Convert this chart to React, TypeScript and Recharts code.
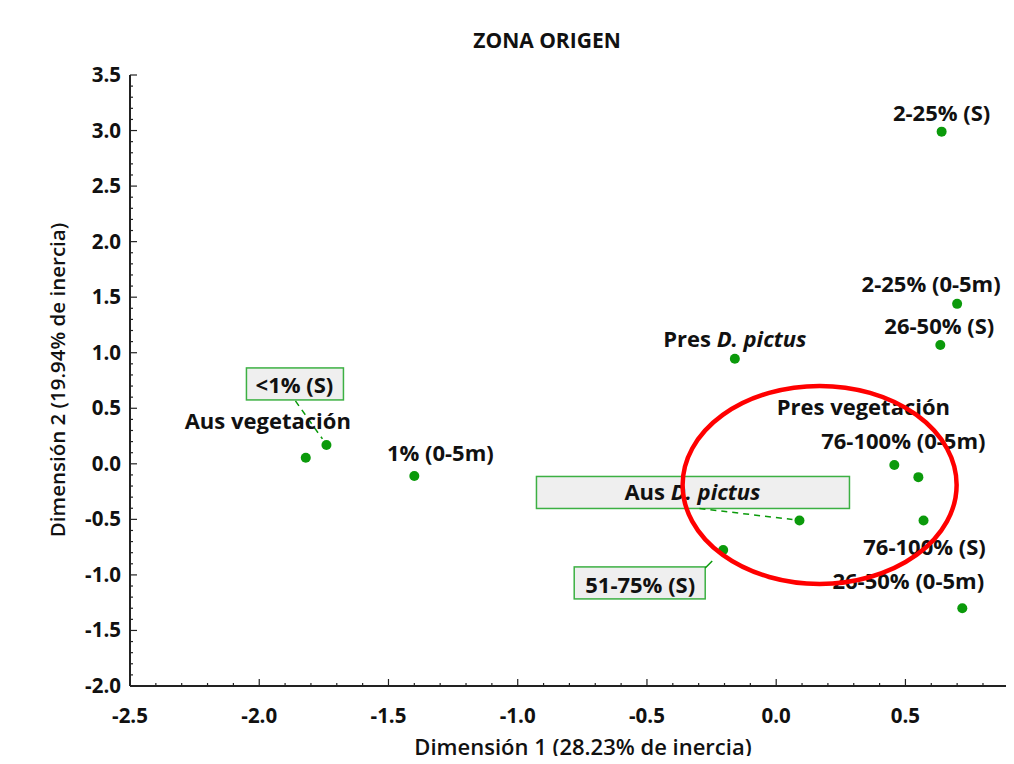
import { ScatterChart, Scatter, XAxis, YAxis, Label } from "recharts";

// Correspondence analysis coordinates
const pointNames = [
  "2-25% (S)",
  "2-25% (0-5m)",
  "26-50% (S)",
  "Pres D. pictus",
  "<1% (S)",
  "Aus vegetación",
  "1% (0-5m)",
  "76-100% (0-5m)",
  "Pres vegetación",
  "76-100% (S)",
  "Aus D. pictus",
  "51-75% (S)",
  "26-50% (0-5m)",
];
const dim1 = [0.64, 0.7, 0.635, -0.16, -1.74, -1.82, -1.4, 0.457, 0.55, 0.57, 0.09, -0.205, 0.72];
const dim2 = [2.99, 1.44, 1.07, 0.945, 0.17, 0.055, -0.11, -0.01, -0.12, -0.51, -0.51, -0.775, -1.3];

const xMajorTicks = [-2.5, -2.0, -1.5, -1.0, -0.5, 0.0, 0.5];
const yMajorTicks = [-2.0, -1.5, -1.0, -0.5, 0.0, 0.5, 1.0, 1.5, 2.0, 2.5, 3.0, 3.5];

// highlighted group (red ellipse centre)
const ellipseCenter = [{ x: 0.168, y: -0.19 }];

const points = pointNames.map((name, i) => ({ name, x: dim1[i], y: dim2[i] }));

// minor ticks every 0.1
const minor = (from: number, to: number) => {
  const out: number[] = [];
  for (let i = Math.round(from * 10); i <= Math.round(to * 10); i++) out.push(i / 10);
  return out;
};
const xTicks = minor(-2.5, 0.9);
const yTicks = minor(-2.0, 3.5);
const isMajor = (v: number, list: number[]) => list.some((m) => Math.abs(m - v) < 1e-6);

const FONT = "'Open Sans', Lato, sans-serif";
const GREEN = "#0b9a0b";
const BOX_STROKE = "#3cb043";

// label placement relative to the point (pixels)
const LABELS: Record<
  string,
  { dx: number; dy: number; box?: number[]; leader?: number[]; dashed?: boolean }
> = {
  "2-25% (S)": { dx: 0, dy: -11 },
  "2-25% (0-5m)": { dx: -26, dy: -12 },
  "26-50% (S)": { dx: -1, dy: -11 },
  "Pres D. pictus": { dx: 0, dy: -12 },
  "<1% (S)": { dx: -32, dy: -52, box: [-80, -77, 17, -45], leader: [-31, -44, -4, -6], dashed: true },
  "Aus vegetación": { dx: -38, dy: -29 },
  "1% (0-5m)": { dx: 26, dy: -15 },
  "76-100% (0-5m)": { dx: 9, dy: -16 },
  "Pres vegetación": { dx: -55, dy: -62 },
  "76-100% (S)": { dx: 1, dy: 35 },
  "Aus D. pictus": { dx: -107, dy: -20, box: [-263, -44, 50, -12], leader: [-100, -12, -7, -1], dashed: true },
  "51-75% (S)": { dx: -83, dy: 43, box: [-149, 17, -18, 49], leader: [-18, 18, -11, 11] },
  "26-50% (0-5m)": { dx: -54, dy: -19 },
};

function LabelText({ name }: { name: string }) {
  const idx = name.indexOf("D. pictus");
  if (idx < 0) return <>{name}</>;
  return (
    <>
      <tspan>{name.slice(0, idx)}</tspan>
      <tspan fontStyle="italic">D. pictus</tspan>
    </>
  );
}

function PointMark(props: any) {
  const { cx, cy, payload } = props;
  const l = LABELS[payload.name] || { dx: 0, dy: -12 };
  return (
    <g>
      {l.box && (
        <rect
          x={cx + l.box[0]}
          y={cy + l.box[1]}
          width={l.box[2] - l.box[0]}
          height={l.box[3] - l.box[1]}
          fill="#efefef"
          stroke={BOX_STROKE}
          strokeWidth={1.5}
        />
      )}
      {l.leader && (
        <line
          x1={cx + l.leader[0]}
          y1={cy + l.leader[1]}
          x2={cx + l.leader[2]}
          y2={cy + l.leader[3]}
          stroke={GREEN}
          strokeWidth={1.5}
          strokeDasharray={l.dashed ? "6 5" : undefined}
        />
      )}
      <circle cx={cx} cy={cy} r={5} fill={GREEN} />
      <text
        x={cx + l.dx}
        y={cy + l.dy}
        textAnchor="middle"
        fontFamily={FONT}
        fontWeight={700}
        fontSize={22}
        fill="#111"
      >
        <LabelText name={payload.name} />
      </text>
    </g>
  );
}

function EllipseMark(props: any) {
  const { cx, cy } = props;
  return <ellipse cx={cx} cy={cy} rx={137} ry={99} fill="none" stroke="#ff0000" strokeWidth={4.5} />;
}

function BottomTick(props: any) {
  const { x, y, payload } = props;
  const major = isMajor(payload.value, xMajorTicks);
  return (
    <g>
      <line x1={x} y1={y} x2={x} y2={y - (major ? 7 : 3)} stroke="#222" strokeWidth={1.2} />
      {major && (
        <text x={x} y={y + 37} textAnchor="middle" fontFamily={FONT} fontWeight={700} fontSize={20.5} fill="#111">
          {payload.value.toFixed(1)}
        </text>
      )}
    </g>
  );
}

function TopTick(props: any) {
  const { x, y, payload } = props;
  const major = isMajor(payload.value, xMajorTicks);
  return <line x1={x} y1={y} x2={x} y2={y + (major ? 7 : 3)} stroke="#222" strokeWidth={1.2} />;
}

function LeftTick(props: any) {
  const { x, y, payload } = props;
  const major = isMajor(payload.value, yMajorTicks);
  return (
    <g>
      <line x1={x} y1={y} x2={x + (major ? 7 : 3)} y2={y} stroke="#222" strokeWidth={1.2} />
      {major && (
        <text x={x - 9} y={y + 7} textAnchor="end" fontFamily={FONT} fontWeight={700} fontSize={20.5} fill="#111">
          {payload.value.toFixed(1)}
        </text>
      )}
    </g>
  );
}

export default function App() {
  return (
    <div style={{ position: "relative", width: 1014, height: 764, margin: -8, background: "#fff", overflow: "hidden" }}>
      <div
        style={{
          position: "absolute",
          left: 0,
          width: 1094,
          top: 26,
          textAlign: "center",
          fontFamily: FONT,
          fontWeight: 700,
          fontSize: 21,
          color: "#111",
        }}
      >
        ZONA ORIGEN
      </div>
      <ScatterChart width={1014} height={764} margin={{ top: 75, right: 0, bottom: 0, left: 0 }}>
        <XAxis
          xAxisId="top"
          orientation="top"
          type="number"
          dataKey="x"
          domain={[-2.5, 0.92]}
          allowDataOverflow
          ticks={xTicks}
          interval={0}
          height={0}
          tickSize={0}
          tickMargin={0}
          tickLine={false}
          tick={<TopTick />}
          axisLine={{ stroke: "#222", strokeWidth: 2 }}
        />
        <XAxis
          type="number"
          dataKey="x"
          domain={[-2.5, 0.92]}
          allowDataOverflow
          ticks={xTicks}
          interval={0}
          height={78}
          tickSize={0}
          tickMargin={0}
          tickLine={false}
          tick={<BottomTick />}
          axisLine={{ stroke: "#222", strokeWidth: 2 }}
        >
          <Label
            content={() => (
              <text x={583} y={755} textAnchor="middle" fontFamily={FONT} fontWeight={600} fontSize={22} fill="#111">
                Dimensión 1 (28.23% de inercia)
              </text>
            )}
          />
        </XAxis>
        <YAxis
          type="number"
          dataKey="y"
          domain={[-2.0, 3.5]}
          allowDataOverflow
          ticks={yTicks}
          interval={0}
          width={130}
          tickSize={0}
          tickMargin={0}
          tickLine={false}
          tick={<LeftTick />}
          axisLine={{ stroke: "#222", strokeWidth: 2 }}
        >
          <Label
            content={() => (
              <text
                x={65}
                y={380}
                transform="rotate(-90 65 380)"
                textAnchor="middle"
                fontFamily={FONT}
                fontWeight={600}
                fontSize={20.5}
                fill="#111"
              >
                Dimensión 2 (19.94% de inercia)
              </text>
            )}
          />
        </YAxis>
        <Scatter data={points} shape={<PointMark />} isAnimationActive={false} />
        <Scatter data={ellipseCenter} shape={<EllipseMark />} isAnimationActive={false} />
      </ScatterChart>
    </div>
  );
}
